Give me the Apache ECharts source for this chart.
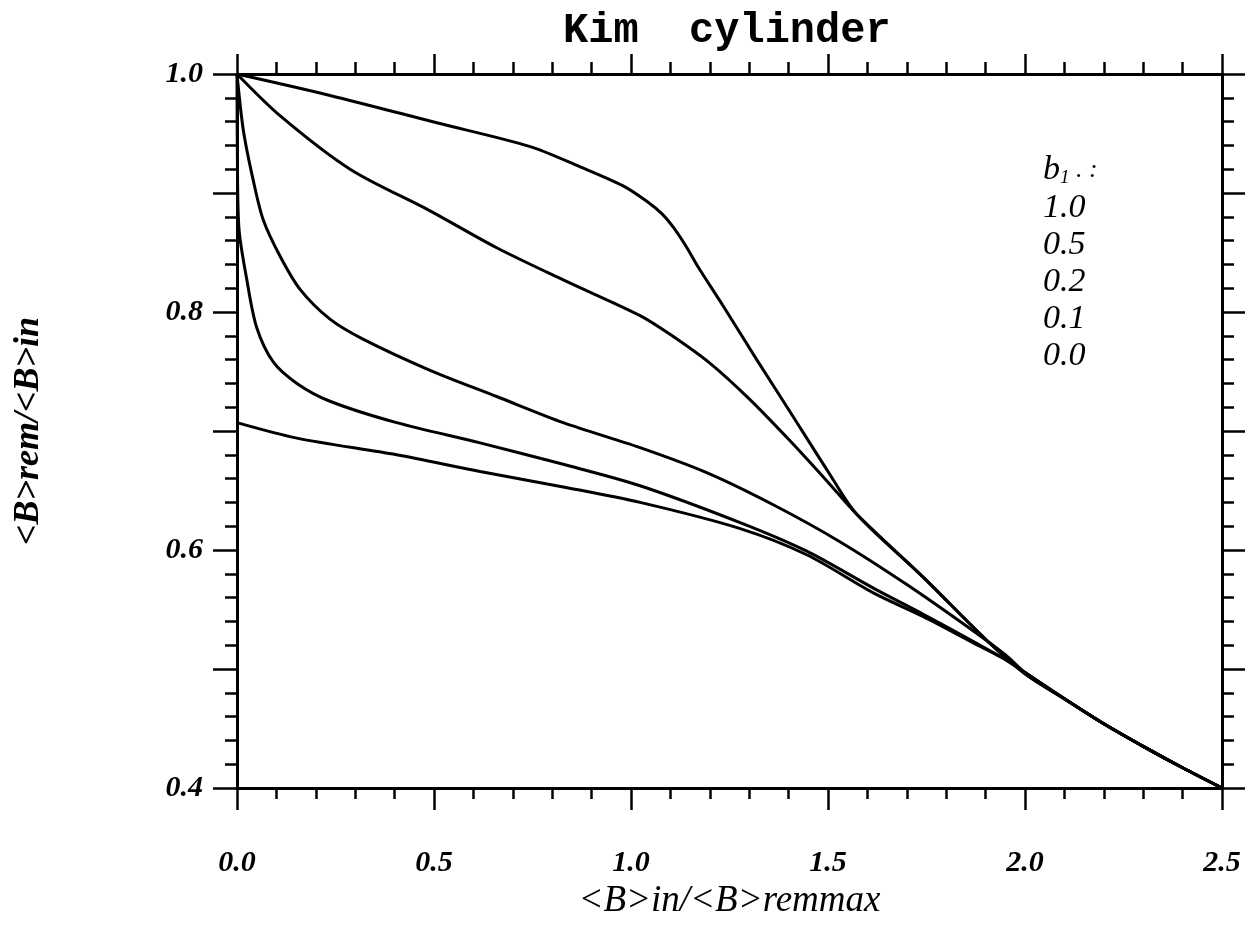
<!DOCTYPE html>
<html>
<head>
<meta charset="utf-8">
<script src="https://cdn.jsdelivr.net/npm/echarts@6/dist/echarts.min.js"></script>
<style>
html,body{margin:0;padding:0;background:#fff;}
#chart{width:1255px;height:929px;}
</style>
</head>
<body>
<div id="chart"></div>
<script>
// ---- data ----
var titleText = 'Kim  cylinder';
var xTitle = '<B>in/<B>remmax';
var yTitle = '<B>rem/<B>in';
var legendLabels = ['1.0', '0.5', '0.2', '0.1', '0.0'];

var curveB10 = [[0,1.0],[0.236,0.982],[0.507,0.959],[0.744,0.939],[0.871,0.922],[0.98,0.906],[1.04,0.893],[1.08,0.882],[1.11,0.870],[1.14,0.855],[1.17,0.838],[1.234,0.805],[1.319,0.760],[1.404,0.716],[1.5,0.666],[1.573,0.630],[1.742,0.577],[1.9,0.525],[2.0,0.496],[2.1,0.475],[2.2,0.454],[2.3,0.435],[2.4,0.417],[2.5,0.4]];
var curveB05 = [[0,1.0],[0.109,0.965],[0.287,0.920],[0.49,0.885],[0.659,0.854],[0.828,0.827],[1.023,0.797],[1.1,0.781],[1.2,0.757],[1.3,0.727],[1.4,0.693],[1.5,0.657],[1.573,0.630],[1.742,0.577],[1.9,0.525],[2.0,0.496],[2.1,0.475],[2.2,0.454],[2.3,0.435],[2.4,0.417],[2.5,0.4]];
var curveB02 = [[0,1.0],[0.016,0.953],[0.041,0.911],[0.067,0.877],[0.109,0.847],[0.16,0.819],[0.236,0.794],[0.321,0.777],[0.49,0.751],[0.659,0.729],[0.828,0.707],[1.023,0.686],[1.192,0.665],[1.361,0.638],[1.53,0.607],[1.7,0.571],[1.869,0.532],[1.95,0.512],[2.0,0.497],[2.1,0.475],[2.2,0.454],[2.3,0.435],[2.4,0.417],[2.5,0.4]];
var curveB01 = [[0,1.0],[0.001,0.93],[0.005,0.87],[0.025,0.827],[0.05,0.787],[0.092,0.758],[0.152,0.740],[0.236,0.725],[0.405,0.707],[0.617,0.690],[0.828,0.672],[1.023,0.654],[1.277,0.623],[1.446,0.599],[1.615,0.568],[1.742,0.546],[1.869,0.523],[1.95,0.508],[2.0,0.497],[2.1,0.475],[2.2,0.454],[2.3,0.435],[2.4,0.417],[2.5,0.4]];
var curveB00 = [[0,0.707],[0.152,0.694],[0.405,0.680],[0.617,0.666],[0.828,0.653],[1.023,0.640],[1.277,0.618],[1.446,0.596],[1.615,0.564],[1.742,0.544],[1.869,0.522],[1.95,0.508],[2.0,0.497],[2.1,0.475],[2.2,0.454],[2.3,0.435],[2.4,0.417],[2.5,0.4]];

var xMin = 0, xMax = 2.5, xStep = 0.5;
var yMin = 0.4, yMax = 1.0, yStep = 0.1;

// ---- chart ----
var chart = echarts.init(document.getElementById('chart'), null, {renderer: 'canvas'});
var serifFont = '"Liberation Serif", "DejaVu Serif", serif';
var ink = '#000';

function xAxisCfg(pos, showLabels) {
  return {
    type: 'value', position: pos, min: xMin, max: xMax, interval: xStep,
    axisLine: {show: true, onZero: false, lineStyle: {color: ink, width: 3}},
    axisTick: {show: true, inside: false, length: pos === 'top' ? 20 : 22, lineStyle: {color: ink, width: 2.5}},
    minorTick: {show: true, splitNumber: 5, length: pos === 'top' ? 12 : 11, lineStyle: {color: ink, width: 2.5}},
    splitLine: {show: false}, minorSplitLine: {show: false},
    axisLabel: {show: showLabels, margin: 60, color: ink, fontFamily: serifFont, fontStyle: 'italic', fontWeight: 'bold', fontSize: 30,
      formatter: function (v) { return v.toFixed(1); }},
    name: showLabels ? xTitle : '', nameLocation: 'middle', nameGap: 92,
    nameTextStyle: {color: ink, fontFamily: serifFont, fontStyle: 'italic', fontSize: 37}
  };
}
function yAxisCfg(pos, showLabels) {
  return {
    type: 'value', position: pos, min: yMin, max: yMax, interval: yStep,
    axisLine: {show: true, onZero: false, lineStyle: {color: ink, width: 3}},
    axisTick: {show: true, inside: false, length: pos === 'left' ? 24 : 23, lineStyle: {color: ink, width: 2.5}},
    minorTick: {show: true, splitNumber: 5, length: 12, lineStyle: {color: ink, width: 2.5}},
    splitLine: {show: false}, minorSplitLine: {show: false},
    axisLabel: {show: showLabels, margin: 34, color: ink, fontFamily: serifFont, fontStyle: 'italic', fontWeight: 'bold', fontSize: 30,
      formatter: function (v) { return Math.round(v * 10) % 2 === 0 ? v.toFixed(1) : ''; }},
    name: showLabels ? yTitle : '', nameLocation: 'middle', nameGap: 190, nameRotate: 90,
    nameTextStyle: {color: ink, fontFamily: serifFont, fontStyle: 'italic', fontWeight: 'bold', fontSize: 36}
  };
}

function lineSeries(name, data) {
  return {
    name: name, type: 'line', data: data, xAxisIndex: 0, yAxisIndex: 0,
    showSymbol: false, smooth: 0.3, clip: false,
    lineStyle: {color: ink, width: 3}, itemStyle: {color: ink}, animation: false
  };
}

var legendX = 1043, legendY0 = 208, legendDy = 37;
var graphics = [
  {type: 'text', left: 563, top: 10, style: {text: titleText, fill: ink, font: 'bold 42px "Liberation Mono", "DejaVu Sans Mono", monospace'}},
  {type: 'text', x: legendX, y: legendY0 - 38, style: {
    text: '{b|b}{s|1}{d| . :}', fill: ink, verticalAlign: 'middle',
    rich: {
      b: {font: 'italic 34px ' + serifFont, fill: ink},
      s: {font: 'italic 19px ' + serifFont, fill: ink, verticalAlign: 'bottom', padding: [14, 0, 0, 0]},
      d: {font: 'italic 26px ' + serifFont, fill: ink}
    }}}
];
legendLabels.forEach(function (t, i) {
  graphics.push({type: 'text', x: legendX, y: legendY0 + i * legendDy, style: {
    text: t, fill: ink, font: 'italic 34px ' + serifFont, verticalAlign: 'middle'}});
});

chart.setOption({
  backgroundColor: '#fff',
  animation: false,
  grid: {left: 237, right: 33, top: 74, bottom: 141, containLabel: false},
  xAxis: [xAxisCfg('bottom', true), xAxisCfg('top', false)],
  yAxis: [yAxisCfg('left', true), yAxisCfg('right', false)],
  series: [
    lineSeries('1.0', curveB10),
    lineSeries('0.5', curveB05),
    lineSeries('0.2', curveB02),
    lineSeries('0.1', curveB01),
    lineSeries('0.0', curveB00)
  ],
  graphic: graphics
});
</script>
</body>
</html>
